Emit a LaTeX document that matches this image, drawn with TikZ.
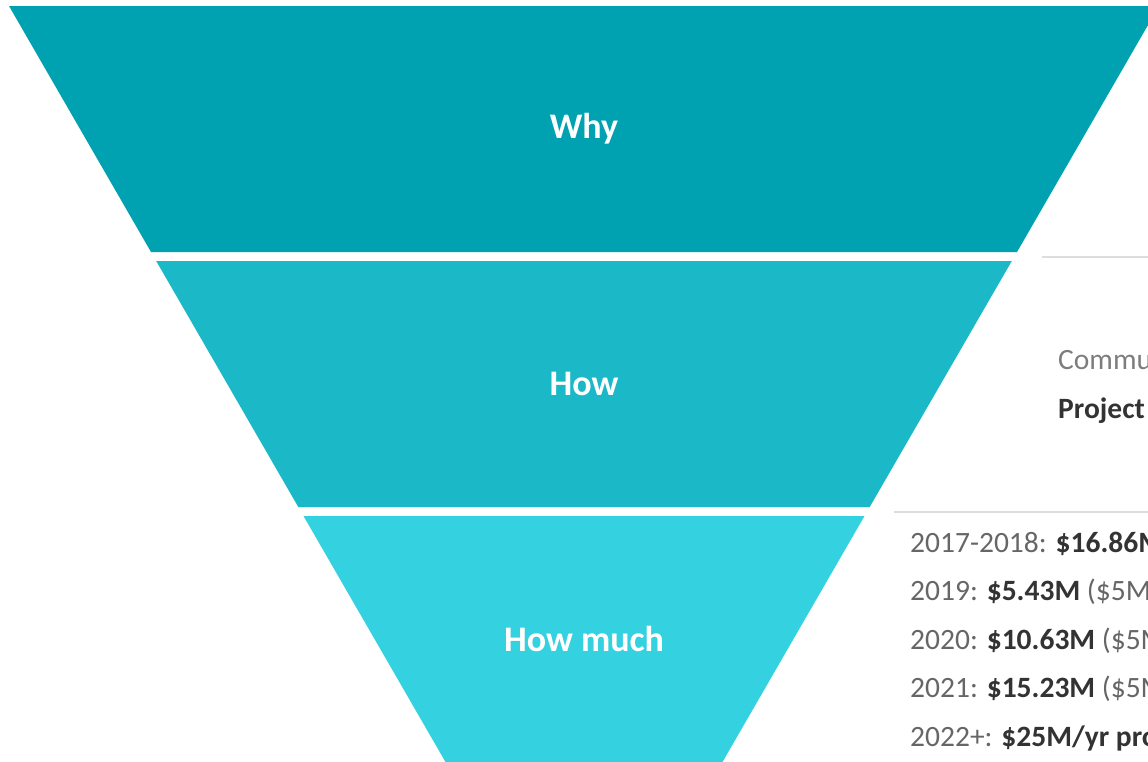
\documentclass[tikz,border=0pt]{standalone}
\usepackage{fontspec}
\setmainfont{Carlito}
\definecolor{bandA}{HTML}{00A1B0}
\definecolor{bandB}{HTML}{1BB8C7}
\definecolor{bandC}{HTML}{34D1E1}
\definecolor{rule}{HTML}{DDDDDD}
\definecolor{txtgray}{HTML}{666666}
\definecolor{txtdark}{HTML}{333333}
\begin{document}
\begin{tikzpicture}[x=1pt,y=-1pt,
  lbl/.style={text=white,font=\fontsize{36}{40}\selectfont\bfseries,anchor=center,inner sep=0pt},
  side/.style={anchor=base west,inner sep=0pt,font=\fontsize{29.5}{32}\selectfont,text=txtgray},
  sep/.style={draw=rule,line width=1.5pt}]
\useasboundingbox (0,0) rectangle (1148,761);
\clip (0,0) rectangle (1148,761);
% bands
\fill[bandA] (9,6) -- (1159,6) -- (1017,252) -- (151,252) -- cycle;
\fill[bandB] (156.2,261) -- (1011.8,261) -- (869.7,507) -- (298.3,507) -- cycle;
\fill[bandC] (303.5,516) -- (864.5,516) -- (722.5,762) -- (445.5,762) -- cycle;
% labels
\node[lbl] (why) at (584,129) {Why};
\node[lbl] (how) at (584,384) {How};
\node[lbl] (howmuch) at (584,639) {How much};
% separators
\coordinate (s1a) at (1042,257);
\coordinate (s1b) at (1148,257);
\coordinate (s2a) at (894,512);
\coordinate (s2b) at (1148,512);
\draw[sep] (s1a) -- (s1b);
\draw[sep] (s2a) -- (s2b);
% side texts
\node[side,text=txtgray!85] (comm) at (1058,369) {Commu};
\node[side,text=txtdark] (proj) at (1058,418) {\bfseries Project};
\node[side] (y1) at (910,552) {2017-2018: \textcolor{txtdark}{\bfseries \$16.86M}};
\node[side] (y2) at (910,600) {2019: \textcolor{txtdark}{\bfseries \$5.43M} (\$5M};
\node[side] (y3) at (910,649) {2020: \textcolor{txtdark}{\bfseries \$10.63M} (\$5M};
\node[side] (y4) at (910,697) {2021: \textcolor{txtdark}{\bfseries \$15.23M} (\$5M};
\node[side] (y5) at (910,746) {2022+: \textcolor{txtdark}{\bfseries \$25M/yr pro}};
\end{tikzpicture}
\end{document}
